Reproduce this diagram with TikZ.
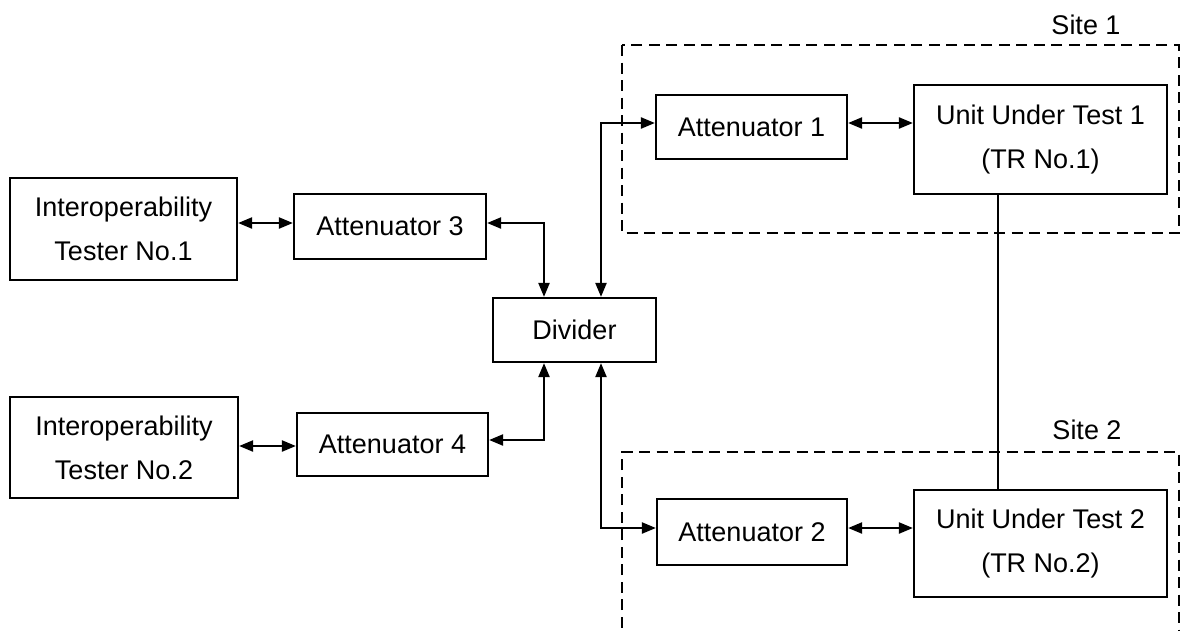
\documentclass[tikz,border=0pt]{standalone}
\usepackage{fontspec}
\setmainfont{Liberation Sans}
\usetikzlibrary{arrows.meta}
\begin{document}
\begin{tikzpicture}[x=1pt,y=-1pt,
  box/.style={draw, line width=2.2pt, inner sep=0pt, align=center,
    font=\fontsize{27}{44}\selectfont},
  link/.style={line width=2.2pt,
    {Triangle[length=14pt,width=11pt]}-{Triangle[length=14pt,width=11pt]}},
  plain/.style={line width=1.8pt},
  sitebox/.style={line width=2.8pt, dash pattern=on 11pt off 6.5pt},
  lbl/.style={font=\fontsize{27}{32}\selectfont}]
\clip (0,0) rectangle (1182,630);

% blocks
\node[box, minimum width=227pt, minimum height=102pt] (t1) at (123.5,229) {Interoperability\\Tester No.1};
\node[box, minimum width=228pt, minimum height=101pt] (t2) at (124,447.5) {Interoperability\\Tester No.2};
\node[box, minimum width=192pt, minimum height=65pt] (a3) at (390,226.5) {Attenuator 3};
\node[box, minimum width=191pt, minimum height=63pt] (a4) at (392.5,444.5) {Attenuator 4};
\node[box, minimum width=163pt, minimum height=64pt] (div) at (574.5,330) {Divider};
\node[box, minimum width=191pt, minimum height=64pt] (a1) at (751.5,127) {Attenuator 1};
\node[box, minimum width=190pt, minimum height=66pt] (a2) at (752,532) {Attenuator 2};
\node[box, minimum width=253pt, minimum height=109pt] (u1) at (1040.5,139.5) {Unit Under Test 1\\(TR No.1)};
\node[box, minimum width=253pt, minimum height=107pt] (u2) at (1040.5,543.5) {Unit Under Test 2\\(TR No.2)};

% site frames
\draw[sitebox] (622,45) rectangle (1179,233);
\draw[sitebox] (622,645) -- (622,452) -- (1179,452) -- (1179,645);
\node[lbl] (s1) at (1086,25) {Site 1};
\node[lbl] (s2) at (1087,430) {Site 2};

% routing rows and columns
\coordinate (r1) at (0,223);
\coordinate (r2) at (0,440);
\coordinate (r3) at (0,446);
\coordinate (r4) at (0,123);
\coordinate (r5) at (0,528);
\coordinate (cl) at (544,0);
\coordinate (cr) at (601,0);
\coordinate (cu) at (998,0);

% connectors
\draw[link] (t1.east |- r1) -- (a3.west |- r1);
\draw[link] (t2.east |- r3) -- (a4.west |- r3);
\draw[link] (a3.east |- r1) -| (div.north -| cl);
\draw[link] (a4.east |- r2) -| (div.south -| cl);
\draw[link] (div.north -| cr) |- (a1.west |- r4);
\draw[link] (div.south -| cr) |- (a2.west |- r5);
\draw[link] (a1.east |- r4) -- (u1.west |- r4);
\draw[link] (a2.east |- r5) -- (u2.west |- r5);
\draw[plain] (u1.south -| cu) -- (u2.north -| cu);
\end{tikzpicture}
\end{document}
